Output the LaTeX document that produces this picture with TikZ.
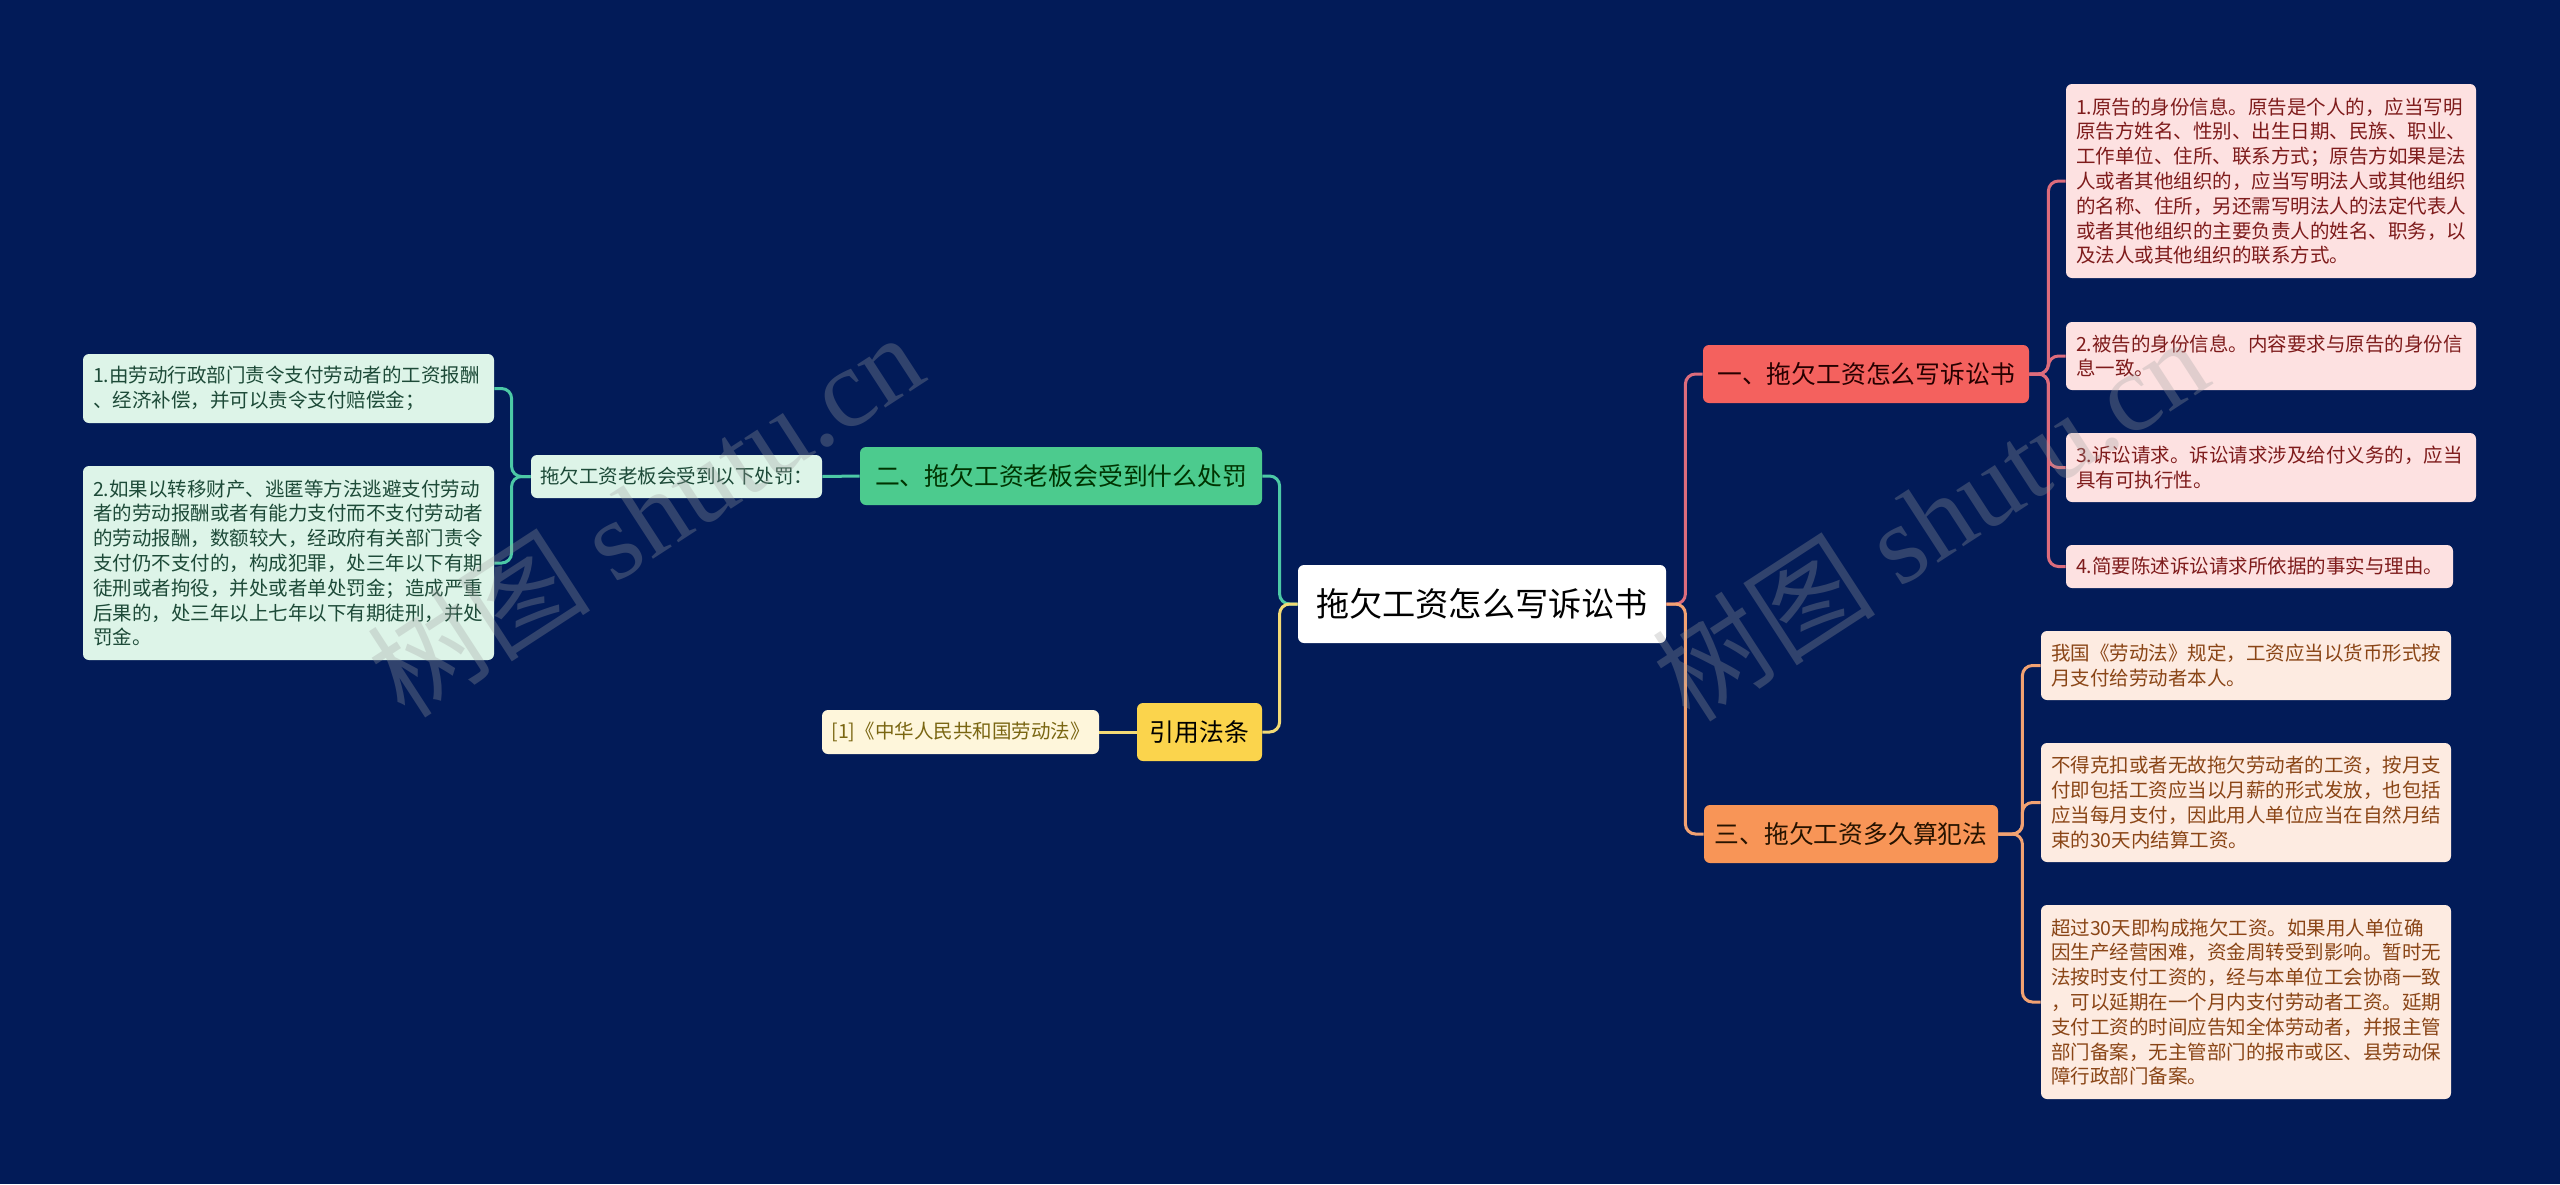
\documentclass[tikz,border=0pt]{standalone}
\usepackage{fontspec}
\setmainfont{Noto Sans CJK SC}
\newfontfamily\markfont{Liberation Serif}
\usepackage{tikz}
\usetikzlibrary{positioning}
\definecolor{bgnavy}{HTML}{021B58}
\definecolor{redtopic}{HTML}{F4615E}
\definecolor{redleaf}{HTML}{FDE1E1}
\definecolor{redline}{HTML}{DD6C7C}
\definecolor{redtext}{HTML}{7E1B1B}
\definecolor{orgtopic}{HTML}{F89557}
\definecolor{orgleaf}{HTML}{FDEBE1}
\definecolor{orgline}{HTML}{F2A272}
\definecolor{orgtext}{HTML}{8A4516}
\definecolor{grntopic}{HTML}{4CCB8E}
\definecolor{grnleaf}{HTML}{DDF4E8}
\definecolor{grnline}{HTML}{4CC9A6}
\definecolor{grntext}{HTML}{1D4A38}
\definecolor{ylwtopic}{HTML}{FBD44C}
\definecolor{ylwleaf}{HTML}{FEF6DB}
\definecolor{ylwline}{HTML}{F3DA75}
\definecolor{ylwtext}{HTML}{7A6612}
\definecolor{wmgray}{HTML}{A0A0A0}

\begin{document}
\begin{tikzpicture}[x=0.5pt, y=-0.5pt,
        box/.style={rectangle, rounded corners=3pt, inner sep=0pt, align=center},
        rootbox/.style={box, fill=white, text=black, minimum width=184pt, minimum height=39pt,
                        font=\fontsize{16.6pt}{20pt}\selectfont},
        topic/.style={box, minimum height=29pt, font=\fontsize{12.4pt}{15pt}\selectfont},
        topicA/.style={topic, fill=redtopic, text=black!85!red},
        topicB/.style={topic, fill=grntopic, text=black!80!green},
        topicC/.style={topic, fill=orgtopic, text=black!85!orange},
        topicD/.style={topic, fill=ylwtopic, text=black},
        leaf/.style={rectangle, rounded corners=3pt, inner xsep=5pt, inner ysep=0pt, align=left,
                     text width=195pt, font=\fontsize{9.75pt}{12.4pt}\selectfont},
        leafA/.style={leaf, fill=redleaf, text=redtext},
        leafB/.style={leaf, fill=grnleaf, text=grntext},
        leafC/.style={leaf, fill=orgleaf, text=orgtext},
        tag/.style={box, minimum height=21.5pt, font=\fontsize{9.75pt}{12.4pt}\selectfont},
        link/.style={line width=1.5pt, rounded corners=5pt},
        wmark/.style={rotate=33, text=wmgray, opacity=0.3, font=\fontsize{56pt}{56pt}\selectfont}
    ]
        \useasboundingbox (0,0) rectangle (2560,1184);
        \fill[bgnavy] (0,0) rectangle (2560,1184);

        % centre
        \node[rootbox] (root) at (1482,604) {拖欠工资怎么写诉讼书};

        % main topics
        \node[topicA, minimum width=163pt] (b1) at (1866,374) {一、拖欠工资怎么写诉讼书};
        \node[topicC, minimum width=147pt] (b3) at (1851,834) {三、拖欠工资多久算犯法};
        \node[topicB, minimum width=201pt] (b2) at (1061,476) {二、拖欠工资老板会受到什么处罚};
        \node[topicD, minimum width=62.5pt] (b4) at (1199.5,732) {引用法条};

        % topic one
        \node[leafA, minimum height=97pt] (la) at (2271,181) {1.原告的身份信息。原告是个人的，应当写明\\
            原告方姓名、性别、出生日期、民族、职业、\\
            工作单位、住所、联系方式；原告方如果是法\\
            人或者其他组织的，应当写明法人或其他组织\\
            的名称、住所，另还需写明法人的法定代表人\\
            或者其他组织的主要负责人的姓名、职务，以\\
            及法人或其他组织的联系方式。};
        \node[leafA, minimum height=34pt] (lb) at (2271,356) {2.被告的身份信息。内容要求与原告的身份信\\
            息一致。};
        \node[leafA, minimum height=34.5pt] (lc) at (2271,467.5) {3.诉讼请求。诉讼请求涉及给付义务的，应当\\
            具有可执行性。};
        \node[leafA, minimum height=21.5pt, text width=183.5pt] (ld) at (2259.5,566.5) {4.简要陈述诉讼请求所依据的事实与理由。};

        % topic three
        \node[leafC, minimum height=34.5pt] (le) at (2246,665.5) {我国《劳动法》规定，工资应当以货币形式按\\
            月支付给劳动者本人。};
        \node[leafC, minimum height=59.5pt] (lf) at (2246,802.5) {不得克扣或者无故拖欠劳动者的工资，按月支\\
            付即包括工资应当以月薪的形式发放，也包括\\
            应当每月支付，因此用人单位应当在自然月结\\
            束的30天内结算工资。};
        \node[leafC, minimum height=97pt] (lg) at (2246,1002) {超过30天即构成拖欠工资。如果用人单位确\\
            因生产经营困难，资金周转受到影响。暂时无\\
            法按时支付工资的，经与本单位工会协商一致\\
            ，可以延期在一个月内支付劳动者工资。延期\\
            支付工资的时间应告知全体劳动者，并报主管\\
            部门备案，无主管部门的报市或区、县劳动保\\
            障行政部门备案。};

        % topic two
        \node[tag, fill=grnleaf, text=grntext, minimum width=145.5pt] (sub) at (676.5,476.5) {拖欠工资老板会受到以下处罚：};
        \node[leafB, minimum height=34.5pt, text width=195.5pt] (gl1) at (288.5,388.5) {1.由劳动行政部门责令支付劳动者的工资报酬\\
            、经济补偿，并可以责令支付赔偿金；};
        \node[leafB, minimum height=97pt, text width=195.5pt] (gl2) at (288.5,563) {2.如果以转移财产、逃匿等方法逃避支付劳动\\
            者的劳动报酬或者有能力支付而不支付劳动者\\
            的劳动报酬，数额较大，经政府有关部门责令\\
            支付仍不支付的，构成犯罪，处三年以下有期\\
            徒刑或者拘役，并处或者单处罚金；造成严重\\
            后果的，处三年以上七年以下有期徒刑，并处\\
            罚金。};

        % law reference
        \node[tag, fill=ylwleaf, text=ylwtext, minimum width=138.5pt, minimum height=22pt] (yl) at (960.5,732) {[1]《中华人民共和国劳动法》};

        % links from the centre
        \draw[link, redline] (root.east) -- ++(19,0) |- (b1.west);
        \draw[link, orgline] (root.east) -- ++(19,0) |- (b3.west);
        \draw[link, grnline] (root.west) -- ++(-18,0) |- (b2.east);
        \draw[link, ylwline] (root.west) -- ++(-18,0) |- (b4.east);

        % links to the leaves
        \foreach \n in {la,lb,lc,ld}
            \draw[link, redline] (b1.east) -- ++(19,0) |- (\n.west);
        \foreach \n in {le,lf,lg}
            \draw[link, orgline] (b3.east) -- ++(24,0) |- (\n.west);
        \draw[link, grnline] (b2.west) -- (sub.east);
        \foreach \n in {gl1,gl2}
            \draw[link, grnline] (sub.west) -- ++(-19,0) |- (\n.east);
        \draw[link, ylwline] (b4.west) -- (yl.east);

        % watermark
        \node[wmark] (wm1) at (645,514) {树图 {\markfont shutu.cn}};
        \node[wmark] (wm2) at (1930,518) {树图 {\markfont shutu.cn}};
    \end{tikzpicture}
\end{document}
